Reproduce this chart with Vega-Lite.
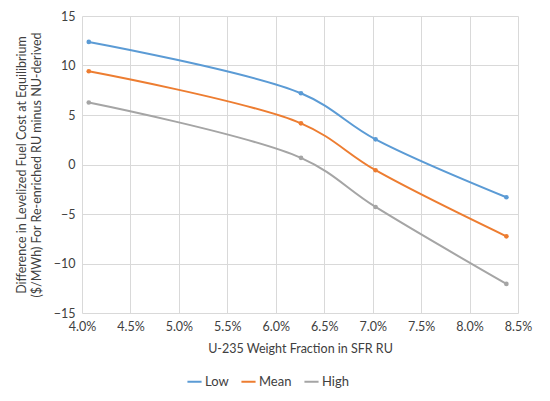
{
  "$schema": "https://vega.github.io/schema/vega-lite/v6.json",
  "width": 436,
  "height": 297,
  "autosize": "none",
  "padding": {"left": 82, "top": 16, "right": 32, "bottom": 88},
  "background": "white",
  "data": {
    "values": [
      {"frac": 0.0407, "diff": 12.38, "case": "Low"},
      {"frac": 0.0626, "diff": 7.2, "case": "Low"},
      {"frac": 0.0703, "diff": 2.54, "case": "Low"},
      {"frac": 0.0838, "diff": -3.31, "case": "Low"},
      {"frac": 0.0407, "diff": 9.42, "case": "Mean"},
      {"frac": 0.0626, "diff": 4.16, "case": "Mean"},
      {"frac": 0.0703, "diff": -0.58, "case": "Mean"},
      {"frac": 0.0838, "diff": -7.26, "case": "Mean"},
      {"frac": 0.0407, "diff": 6.26, "case": "High"},
      {"frac": 0.0626, "diff": 0.67, "case": "High"},
      {"frac": 0.0703, "diff": -4.29, "case": "High"},
      {"frac": 0.0838, "diff": -12.06, "case": "High"}
    ]
  },
  "mark": {
    "type": "line",
    "interpolate": "catmull-rom",
    "strokeWidth": 2,
    "point": {"filled": true, "size": 22}
  },
  "encoding": {
    "x": {
      "field": "frac",
      "type": "quantitative",
      "title": "U-235 Weight Fraction in SFR RU",
      "scale": {"domain": [0.04, 0.085], "nice": false},
      "axis": {
        "format": ".1%",
        "values": [0.04, 0.045, 0.05, 0.055, 0.06, 0.065, 0.07, 0.075, 0.08, 0.085],
        "labelFlush": false,
        "labelBound": false,
        "labelOverlap": false,
        "titlePadding": 10
      }
    },
    "y": {
      "field": "diff",
      "type": "quantitative",
      "title": ["Difference in Levelized Fuel Cost at Equilibrium", "($/MWh) For Re-enriched RU minus NU-derived"],
      "scale": {"domain": [-15, 15], "nice": false},
      "axis": {"values": [-15, -10, -5, 0, 5, 10, 15], "labelFlush": false, "titlePadding": 10}
    },
    "color": {
      "field": "case",
      "type": "nominal",
      "title": null,
      "sort": ["Low", "Mean", "High"],
      "scale": {"domain": ["Low", "Mean", "High"], "range": ["#5B9BD5", "#ED7D31", "#A5A5A5"]},
      "legend": {
        "orient": "none",
        "legendX": 104,
        "legendY": 357,
        "direction": "horizontal",
        "symbolType": "stroke",
        "symbolStrokeWidth": 2,
        "symbolSize": 200,
        "labelFontSize": 13,
        "columnPadding": 8,
        "labelOffset": 2
      }
    }
  },
  "config": {
    "view": {"stroke": null},
    "font": "Lato",
    "axis": {
      "domain": false,
      "ticks": false,
      "grid": true,
      "gridColor": "#D9D9D9",
      "gridWidth": 1,
      "labelFont": "Lato",
      "labelFontSize": 12.5,
      "labelColor": "#404040",
      "labelPadding": 7,
      "titleFont": "Lato",
      "titleFontSize": 12.5,
      "titleFontWeight": "normal",
      "titleColor": "#404040"
    },
    "legend": {"labelFont": "Lato", "labelColor": "#404040"}
  }
}
